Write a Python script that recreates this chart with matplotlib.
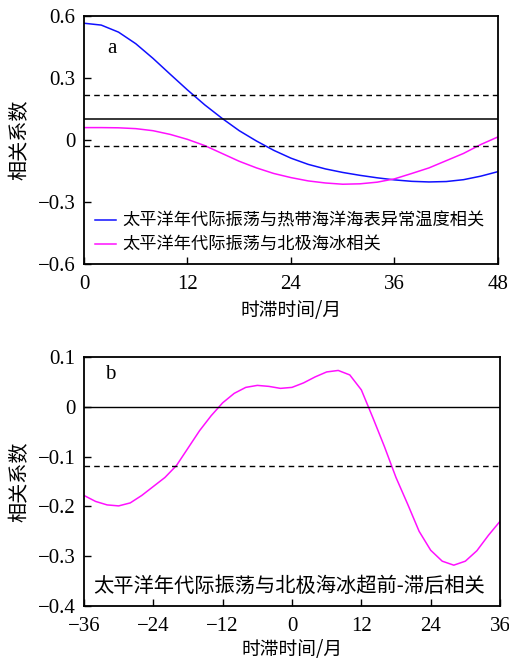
import matplotlib
matplotlib.use("Agg")
import matplotlib.pyplot as plt

plt.rcParams['font.family'] = ['Liberation Serif', 'Noto Sans CJK SC']
plt.rcParams['axes.unicode_minus'] = True

# panel a: lag in months
lag_a = [0, 2, 4, 6, 8, 10, 12, 14, 16, 18, 20, 22, 24, 26, 28, 30, 32, 34, 36, 38, 40, 42, 44, 46, 48]
pdo_sst = [0.565, 0.556, 0.522, 0.466, 0.395, 0.318, 0.242, 0.170, 0.105, 0.045, -0.005, -0.050,
           -0.088, -0.118, -0.140, -0.157, -0.171, -0.183, -0.193, -0.200, -0.203, -0.201,
           -0.192, -0.175, -0.153]
pdo_ice = [0.060, 0.060, 0.059, 0.055, 0.045, 0.027, 0.003, -0.027, -0.065, -0.103, -0.135,
           -0.162, -0.182, -0.198, -0.208, -0.214, -0.212, -0.204, -0.188, -0.162, -0.135,
           -0.100, -0.065, -0.022, 0.015]
ref_a = 0.1
sig_a = [0.22, -0.03]

# panel b: lead-lag
lag_b = list(range(-36, 37, 2))
ice_b = [-0.178, -0.190, -0.197, -0.199, -0.193, -0.178, -0.160, -0.142, -0.118, -0.083,
         -0.048, -0.018, 0.008, 0.027, 0.039, 0.043, 0.041, 0.037, 0.039, 0.048, 0.060,
         0.070, 0.073, 0.064, 0.034, -0.022, -0.080, -0.142, -0.195, -0.250, -0.288,
         -0.310, -0.318, -0.310, -0.289, -0.258, -0.230]
sig_b = -0.118

cjk = ['Noto Sans CJK SC']
blue = '#1010ff'
magenta = '#ff10ff'

fig = plt.figure(figsize=(5.1, 6.6), dpi=100)
ax1 = fig.add_axes([84 / 510, 1 - 264 / 660, 414 / 510, 248 / 660])
ax2 = fig.add_axes([84 / 510, 1 - 606 / 660, 416 / 510, 249 / 660])

for ax in (ax1, ax2):
    ax.tick_params(direction='in', length=5, width=1, labelsize=15, pad=6,
                   top=False, right=False)
    ax.tick_params(axis='x', pad=8)
    for s in ax.spines.values():
        s.set_linewidth(1.3)

# --- a ---
ax1.plot(lag_a, pdo_sst, color=blue, lw=1.1,
         label='太平洋年代际振荡与热带海洋海表异常温度相关')
ax1.plot(lag_a, pdo_ice, color=magenta, lw=1.1,
         label='太平洋年代际振荡与北极海冰相关')
ax1.axhline(ref_a, color='black', lw=1.1)
for v in sig_a:
    ax1.axhline(v, color='black', lw=1.0, ls=(0, (4, 3)))
ax1.set_xlim(0, 48)
ax1.set_ylim(-0.6, 0.6)
ax1.set_xticks([0, 12, 24, 36, 48])
ax1.set_yticks([-0.6, -0.3, 0, 0.3, 0.6])
ax1.set_yticklabels(['\u22120.6', '\u22120.3', '0', '0.3', '0.6'])
ax1.set_xlabel('时滞时间/月', family=cjk, fontsize=13.5, labelpad=4)
ax1.set_ylabel('相关系数', family=cjk, fontsize=14.5, labelpad=5)
ax1.text(0.055, 0.87, 'a', transform=ax1.transAxes, fontsize=15, va='center')
ax1.legend(loc='center left', bbox_to_anchor=(0.027, 0.126), frameon=False,
           prop={'family': cjk, 'size': 12.4}, handlelength=1.2,
           handletextpad=0.4, labelspacing=0.33, borderaxespad=0, borderpad=0)

# --- b ---
ax2.plot(lag_b, ice_b, color=magenta, lw=1.1)
ax2.axhline(0, color='black', lw=1.0)
ax2.axhline(sig_b, color='black', lw=1.0, ls=(0, (4, 3)))
ax2.set_xlim(-36, 36)
ax2.set_ylim(-0.4, 0.1)
ax2.set_xticks([-36, -24, -12, 0, 12, 24, 36])
ax2.set_xticklabels(['\u221236', '\u221224', '\u221212', '0', '12', '24', '36'])
ax2.set_yticks([-0.4, -0.3, -0.2, -0.1, 0, 0.1])
ax2.set_yticklabels(['\u22120.4', '\u22120.3', '\u22120.2', '\u22120.1', '0', '0.1'])
ax2.set_xlabel('时滞时间/月', family=cjk, fontsize=13.5, labelpad=2)
ax2.set_ylabel('相关系数', family=cjk, fontsize=14.5, labelpad=5)
ax2.text(0.05, 0.93, 'b', transform=ax2.transAxes, fontsize=15, va='center')
ax2.text(0.022, 0.08, '太平洋年代际振荡与北极海冰超前-滞后相关', transform=ax2.transAxes,
         family=cjk, fontsize=14.6, va='center', ha='left')

fig.savefig('out.png', dpi=100)
